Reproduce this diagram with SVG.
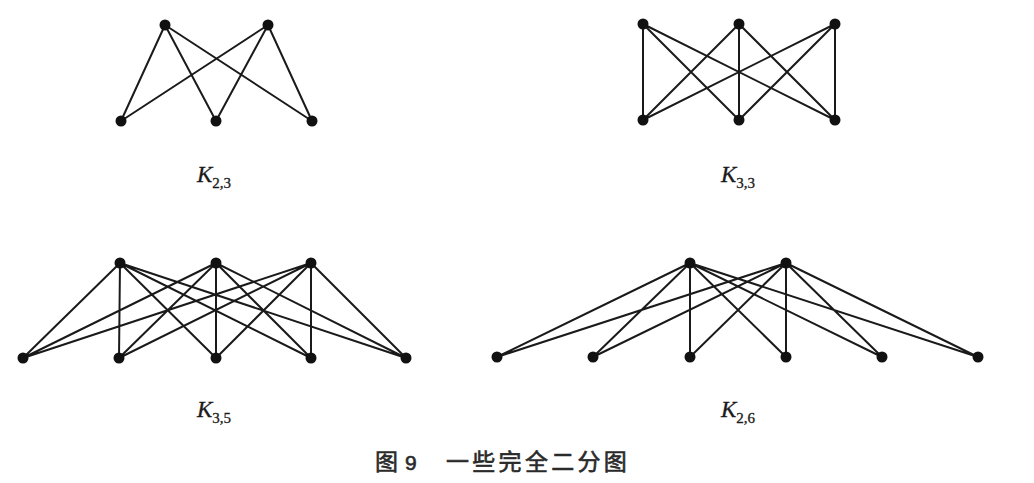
<svg xmlns="http://www.w3.org/2000/svg" width="1034" height="483" viewBox="0 0 1034 483">
<style>
.e{stroke:#1a1a1a;stroke-width:2;fill:none;stroke-linecap:round}
.n{fill:#111}
.lab{font-family:"Liberation Serif",serif;font-size:23px;fill:#1a1a1a;stroke:#1a1a1a;stroke-width:0.3}
.k{font-style:italic}
.sub{font-size:15px}
.cap{font-family:"Noto Sans CJK SC","Noto Sans",sans-serif;font-size:23px;fill:#2a2a2a;stroke:#2a2a2a;stroke-width:0.6}
</style>
<rect width="1034" height="483" fill="#fff"/>
<g id="connectors">
<path class="e" d="M165 25L121 121M165 25L216 121M165 25L312 121M268 25L121 121M268 25L216 121M268 25L312 121"/>
<path class="e" d="M643 24L643 120M643 24L739 120M643 24L835 120M739 24L643 120M739 24L739 120M739 24L835 120M835 24L643 120M835 24L739 120M835 24L835 120"/>
<path class="e" d="M120 263L23 358M120 263L119 358M120 263L216 358M120 263L311 358M120 263L406 358M216 263L23 358M216 263L119 358M216 263L216 358M216 263L311 358M216 263L406 358M311 263L23 358M311 263L119 358M311 263L216 358M311 263L311 358M311 263L406 358"/>
<path class="e" d="M690 263L497 357M690 263L593 357M690 263L690 357M690 263L786 357M690 263L882 357M690 263L978 357M786 263L497 357M786 263L593 357M786 263L690 357M786 263L786 357M786 263L882 357M786 263L978 357"/>
</g>
<g id="K23">
<circle class="n" cx="165" cy="25" r="5.5"/><circle class="n" cx="268" cy="25" r="5.5"/>
<circle class="n" cx="121" cy="121" r="5.5"/><circle class="n" cx="216" cy="121" r="5.5"/><circle class="n" cx="312" cy="121" r="5.5"/>
<text class="lab" x="197" y="182"><tspan class="k">K</tspan><tspan class="sub" dy="6">2,3</tspan></text>
</g>
<g id="K33">
<circle class="n" cx="643" cy="24" r="5.5"/><circle class="n" cx="739" cy="24" r="5.5"/><circle class="n" cx="835" cy="24" r="5.5"/>
<circle class="n" cx="643" cy="120" r="5.5"/><circle class="n" cx="739" cy="120" r="5.5"/><circle class="n" cx="835" cy="120" r="5.5"/>
<text class="lab" x="721" y="182"><tspan class="k">K</tspan><tspan class="sub" dy="6">3,3</tspan></text>
</g>
<g id="K35">
<circle class="n" cx="120" cy="263" r="5.5"/><circle class="n" cx="216" cy="263" r="5.5"/><circle class="n" cx="311" cy="263" r="5.5"/>
<circle class="n" cx="23" cy="358" r="5.5"/><circle class="n" cx="119" cy="358" r="5.5"/><circle class="n" cx="216" cy="358" r="5.5"/><circle class="n" cx="311" cy="358" r="5.5"/><circle class="n" cx="406" cy="358" r="5.5"/>
<text class="lab" x="197" y="417"><tspan class="k">K</tspan><tspan class="sub" dy="6">3,5</tspan></text>
</g>
<g id="K26">
<circle class="n" cx="690" cy="263" r="5.5"/><circle class="n" cx="786" cy="263" r="5.5"/>
<circle class="n" cx="497" cy="357" r="5.5"/><circle class="n" cx="593" cy="357" r="5.5"/><circle class="n" cx="690" cy="357" r="5.5"/><circle class="n" cx="786" cy="357" r="5.5"/><circle class="n" cx="882" cy="357" r="5.5"/><circle class="n" cx="978" cy="357" r="5.5"/>
<text class="lab" x="721" y="417"><tspan class="k">K</tspan><tspan class="sub" dy="6">2,6</tspan></text>
</g>
<g id="caption">
<text class="cap" x="375" y="470">图</text>
<text class="cap" x="405" y="470" style="font-family:'Liberation Sans',sans-serif;font-size:21px">9</text>
<text class="cap" x="446" y="470" letter-spacing="3.3">一些完全二分图</text>
</g>
</svg>
